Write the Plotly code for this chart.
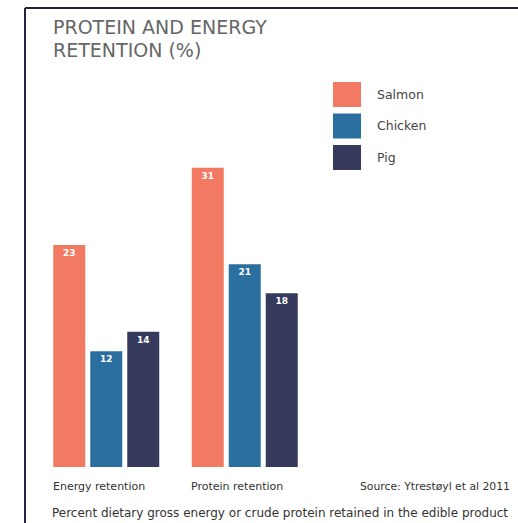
import plotly.graph_objects as go

categories = ["Energy retention", "Protein retention"]
series_names = ["Salmon", "Chicken", "Pig"]
salmon = [23, 31]
chicken = [12, 21]
pig = [14, 18]
series_values = [salmon, chicken, pig]
colors = ["#f37a62", "#2a6fa0", "#363a5c"]

title_lines = ["PROTEIN AND ENERGY", "RETENTION (%)"]
source_text = "Source: Ytrestøyl et al 2011"
caption_text = "Percent dietary gross energy or crude protein retained in the edible product"

FONT = "DejaVu Sans"
W, H = 518, 523
ML, MR, MT, MB = 37, 204, 158, 56
PW, PH = W - ML - MR, H - MT - MB

def px(x):
    return (x - ML) / PW

def py(y):
    return (H - MB - y) / PH

fig = go.Figure()
for name, vals, col in zip(series_names, series_values, colors):
    fig.add_trace(go.Bar(
        x=categories, y=vals, name=name,
        marker=dict(color=col, line=dict(width=0)),
        text=[str(v) for v in vals], textposition="inside",
        insidetextanchor="end", textangle=0,
        textfont=dict(color="white", size=9, family=FONT, weight="bold"),
        showlegend=False,
    ))

shapes = []
annotations = []
# frame
shapes.append(dict(type="line", xref="paper", yref="paper", x0=px(25), x1=px(520), y0=py(8), y1=py(8),
                   line=dict(color="#1f2340", width=2)))
shapes.append(dict(type="line", xref="paper", yref="paper", x0=px(25), x1=px(25), y0=py(8), y1=py(525),
                   line=dict(color="#1f2340", width=2)))
# legend swatches
for i, (name, col) in enumerate(zip(series_names, colors)):
    y0 = 82 + i * 31.5
    shapes.append(dict(type="rect", xref="paper", yref="paper", x0=px(333), x1=px(361),
                       y0=py(y0), y1=py(y0 + 25), fillcolor=col, line=dict(width=0), layer="above"))
    annotations.append(dict(xref="paper", yref="paper", x=px(375), y=py(y0 + 12.5), text=name,
                            showarrow=False, xanchor="left", yanchor="middle",
                            font=dict(size=12.5, color="#444", family=FONT)))
# title
for i, line in enumerate(title_lines):
    annotations.append(dict(xref="paper", yref="paper", x=px(51), y=py(27 + i * 23), text=line,
                            showarrow=False, xanchor="left", yanchor="middle",
                            font=dict(size=19, color="#666", family=FONT)))
# category labels, left aligned with bar groups
group_half = 0.3995
for i, c in enumerate(categories):
    annotations.append(dict(xref="x", yref="paper", x=i - group_half, y=py(486), text=c,
                            showarrow=False, xanchor="left", yanchor="middle",
                            font=dict(size=11, color="#333", family=FONT)))
annotations.append(dict(xref="paper", yref="paper", x=px(512), y=py(486), text=source_text,
                        showarrow=False, xanchor="right", yanchor="middle",
                        font=dict(size=10.8, color="#333", family=FONT)))
annotations.append(dict(xref="paper", yref="paper", x=px(50), y=py(513), text=caption_text,
                        showarrow=False, xanchor="left", yanchor="middle",
                        font=dict(size=12, color="#333", family=FONT)))

fig.update_layout(
    width=W, height=H,
    margin=dict(l=ML, r=MR, t=MT, b=MB),
    paper_bgcolor="white", plot_bgcolor="white",
    barmode="group", bargap=0.1986, bargroupgap=0.135,
    xaxis=dict(showticklabels=False, showgrid=False, zeroline=False, showline=False, ticks="",
               range=[-0.5, 1.5]),
    yaxis=dict(range=[0, 32], showticklabels=False, showgrid=False, zeroline=False, showline=False,
               ticks=""),
    shapes=shapes, annotations=annotations,
    uniformtext=dict(minsize=8, mode="show"),
)

fig.write_html("out.html")
